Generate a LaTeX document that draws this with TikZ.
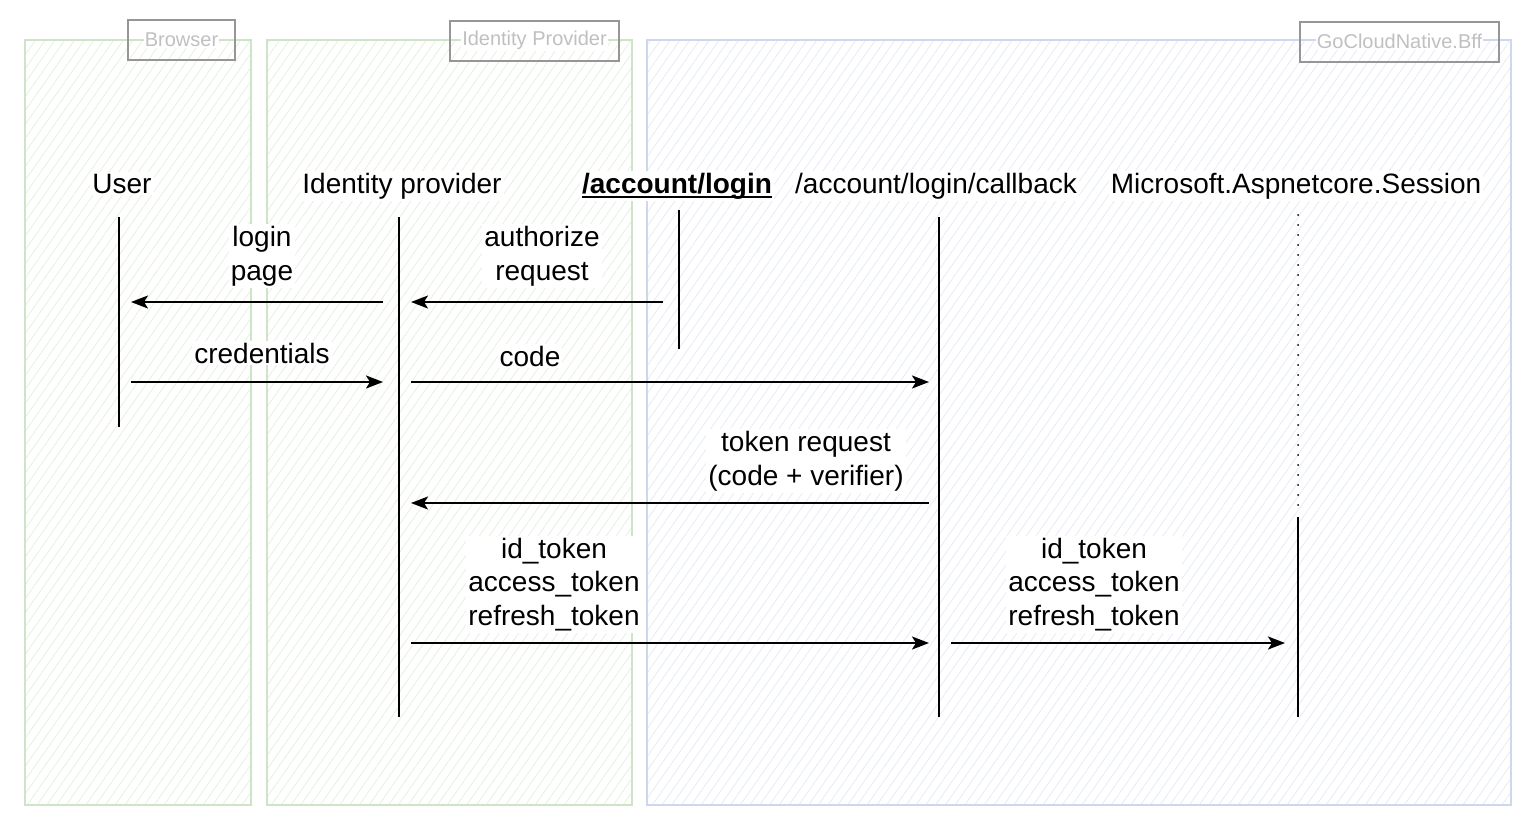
\documentclass[tikz,border=0pt]{standalone}
\usepackage{fontspec}
\setmainfont{Liberation Sans}
\usetikzlibrary{arrows.meta,patterns.meta}

\definecolor{greenline}{RGB}{206,228,198}
\definecolor{greenhatch}{RGB}{229,240,224}
\definecolor{blueline}{RGB}{206,215,238}
\definecolor{bluehatch}{RGB}{229,234,246}
\definecolor{tagline}{RGB}{150,150,150}
\definecolor{tagfont}{RGB}{192,192,192}

\tikzset{
  zone/.style={line width=2pt, draw=#1line,
    pattern={Lines[angle=55,distance=8pt,line width=0.8pt]}, pattern color=#1hatch},
  tagtext/.style={fill=white, inner sep=1pt, text=tagfont, font=\fontsize{20}{24}\selectfont},
  tagbox/.style={draw=tagline, line width=2pt, minimum height=40pt, minimum width=#1},
  actor/.style={fill=white, inner sep=2pt, anchor=base, font=\fontsize{28}{33.5}\selectfont},
  msgtext/.style={actor, align=center},
  life/.style={line width=2pt},
  msg/.style={line width=2pt, -{Stealth[length=17pt,width=13pt,inset=4pt]}},
}

\begin{document}
\begin{tikzpicture}[x=1pt,y=-1pt]
    \useasboundingbox (0,0) rectangle (1536,830);
    % zones
    \draw[zone=green] (25,40) rectangle (251,805);
    \draw[zone=green] (267,40) rectangle (632,805);
    \draw[zone=blue] (647,40) rectangle (1511,805);
    \node[tagtext] (brwT) at (181.5,40) {Browser};
    \node[tagbox=107pt] (brwB) at (181.5,40) {};
    \node[tagtext] (idpT) at (534.5,40.5) {Identity Provider};
    \node[tagbox=169pt] (idpB) at (534.5,40.5) {};
    \node[tagtext] (bffT) at (1399.5,41.5) {GoCloudNative.Bff};
    \node[tagbox=199pt] (bffB) at (1399.5,41.5) {};
    % actors
    \node[actor] (usr) at (122,193) {User};
    \node[actor] (idp) at (402,193) {Identity provider};
    \node[actor] (acl) at (677,193) {\textbf{/account/login}};
    \node[actor] (cbk) at (936,193) {/account/login/callback};
    \node[actor] (ses) at (1296,193) {Microsoft.Aspnetcore.Session};
    \draw[line width=2.2pt] ([xshift=2pt,yshift=-4pt]acl.base west) -- ([xshift=-2pt,yshift=-4pt]acl.base east);
    % lifelines
    \coordinate (usrT) at (119,217);  \coordinate (usrB) at (119,427);
    \coordinate (idpL) at (399,217);  \coordinate (idpE) at (399,717);
    \coordinate (aclT) at (679,210);  \coordinate (aclB) at (679,349);
    \coordinate (cbkT) at (939,217);  \coordinate (cbkB) at (939,717);
    \coordinate (sesT) at (1298,215); \coordinate (sesM) at (1298,512);
    \coordinate (sesA) at (1298,517); \coordinate (sesB) at (1298,717);
    \draw[life] (usrT) -- (usrB);
    \draw[life] (idpL) -- (idpE);
    \draw[life] (aclT) -- (aclB);
    \draw[life] (cbkT) -- (cbkB);
    \draw[life, line cap=round, dash pattern=on 0pt off 10pt] (sesT) -- (sesM);
    \draw[life] (sesA) -- (sesB);
    % messages
    \coordinate (m1a) at (383,302);  \coordinate (m1b) at (131,302);
    \coordinate (m2a) at (663,302);  \coordinate (m2b) at (411,302);
    \coordinate (m3a) at (131,382);  \coordinate (m3b) at (383,382);
    \coordinate (m4a) at (411,382);  \coordinate (m4b) at (929,382);
    \coordinate (m5a) at (929,503);  \coordinate (m5b) at (411,503);
    \coordinate (m6a) at (411,643);  \coordinate (m6b) at (929,643);
    \coordinate (m7a) at (951,643);  \coordinate (m7b) at (1285,643);
    \draw[msg] (m1a) -- (m1b);
    \draw[msg] (m2a) -- (m2b);
    \draw[msg] (m3a) -- (m3b);
    \draw[msg] (m4a) -- (m4b);
    \draw[msg] (m5a) -- (m5b);
    \draw[msg] (m6a) -- (m6b);
    \draw[msg] (m7a) -- (m7b);
    % labels (base = last line)
    \node[msgtext] (lgn) at (262,280) {login\\page};
    \node[msgtext] (azr) at (542,280) {authorize\\request};
    \node[msgtext] (crd) at (262,363) {credentials};
    \node[msgtext] (cod) at (530,366) {code};
    \node[msgtext] (tkr) at (806,485) {token request\\(code + verifier)};
    \node[msgtext] (tk1) at (554,625) {id\_token\\access\_token\\refresh\_token};
    \node[msgtext] (tk2) at (1094,625) {id\_token\\access\_token\\refresh\_token};
\end{tikzpicture}
\end{document}
